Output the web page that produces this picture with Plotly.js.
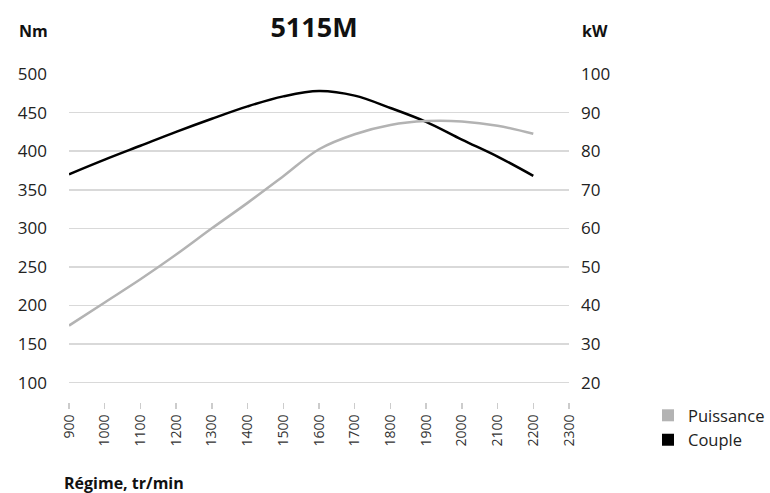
<!DOCTYPE html>
<html>
<head>
<meta charset="utf-8">
<script src="https://cdn.plot.ly/plotly-3.0.1.min.js"></script>
<style>html,body{margin:0;padding:0;background:#fff;}#chart{width:770px;height:493px;}</style>
</head>
<body>
<div id="chart"></div>
<script>
// Data
const rpm = [900, 1000, 1100, 1200, 1300, 1400, 1500, 1600, 1700, 1800, 1900, 2000, 2100, 2200];
const coupleNm = [370, 389, 407, 425, 442, 458, 471, 478, 472, 456, 438, 415, 393, 368];
const puissanceKW = [34.8, 40.8, 46.8, 53.2, 60, 66.6, 73.5, 80.5, 84.4, 86.8, 87.8, 87.7, 86.6, 84.5];
const xTicks = [900, 1000, 1100, 1200, 1300, 1400, 1500, 1600, 1700, 1800, 1900, 2000, 2100, 2200, 2300];
const chartTitle = '5115M';
const seriesNames = ['Puissance', 'Couple'];

const grey = '#b3b3b3';
const black = '#000000';
const font = 'Open Sans, Noto Sans, sans-serif';

const traces = [
  {x: rpm, y: puissanceKW, yaxis: 'y2', type: 'scatter', mode: 'lines',
   line: {color: grey, width: 2.5, shape: 'spline', smoothing: 1}, showlegend: false, hoverinfo: 'skip'},
  {x: rpm, y: coupleNm, yaxis: 'y', type: 'scatter', mode: 'lines',
   line: {color: black, width: 2.5, shape: 'spline', smoothing: 1}, showlegend: false, hoverinfo: 'skip'},
  {x: [null], y: [null], type: 'scatter', mode: 'markers', name: seriesNames[0],
   marker: {symbol: 'square', size: 12, color: grey}},
  {x: [null], y: [null], type: 'scatter', mode: 'markers', name: seriesNames[1],
   marker: {symbol: 'square', size: 12, color: black}}
];

const layout = {
  width: 770, height: 493,
  margin: {l: 69, r: 201, t: 74, b: 91, autoexpand: false},
  paper_bgcolor: '#fff', plot_bgcolor: '#fff',
  font: {family: font, color: '#222'},
  title: {text: '<b>' + chartTitle + '</b>', font: {family: font, size: 27, color: '#111'},
          x: 0.49, xref: 'paper', xanchor: 'center', y: 0.945, yref: 'container', yanchor: 'middle'},
  xaxis: {range: [900, 2300], tickvals: xTicks, ticktext: xTicks.map(String),
          tickangle: -90, ticks: 'outside', ticklen: 6, tickwidth: 1.5, tickcolor: '#cccccc',
          tickfont: {family: font, size: 14, color: '#333'}, automargin: false,
          showgrid: false, zeroline: false, showline: false, fixedrange: true},
  yaxis: {range: [75, 500], tick0: 0, dtick: 50, showgrid: true, gridcolor: '#d9d9d9', gridwidth: 1.5,
          zeroline: false, showline: false, ticks: '', ticklabelstandoff: 21, automargin: false,
          tickfont: {family: font, size: 17, color: '#222'}},
  yaxis2: {range: [15, 100], tick0: 0, dtick: 10, overlaying: 'y', side: 'right', showgrid: false,
           zeroline: false, showline: false, ticks: '', ticklabelstandoff: 11, automargin: false,
           tickfont: {family: font, size: 17, color: '#222'}},
  legend: {x: 1.158, xanchor: 'left', y: 0.012, yanchor: 'top', orientation: 'v',
           font: {family: font, size: 16.5, color: '#222'}, bgcolor: 'rgba(0,0,0,0)', traceorder: 'normal'},
  annotations: [
    {text: '<b>Nm</b>', xref: 'paper', yref: 'paper', x: -0.104, y: 1.131, xanchor: 'left', yanchor: 'middle',
     showarrow: false, font: {family: font, size: 16, color: '#111'}},
    {text: '<b>kW</b>', xref: 'paper', yref: 'paper', x: 1.022, y: 1.131, xanchor: 'left', yanchor: 'middle',
     showarrow: false, font: {family: font, size: 16, color: '#111'}},
    {text: '<b>Régime, tr/min</b>', xref: 'paper', yref: 'paper', x: -0.014, y: -0.247, xanchor: 'left', yanchor: 'middle',
     showarrow: false, font: {family: font, size: 16, color: '#111'}}
  ]
};

Plotly.newPlot('chart', traces, layout, {displayModeBar: false, staticPlot: true});
</script>
</body>
</html>
